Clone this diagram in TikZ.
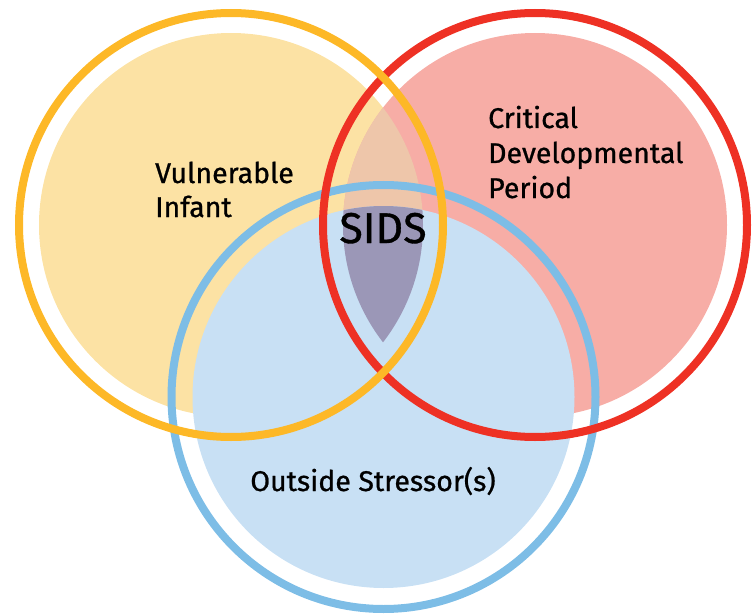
\documentclass[tikz,border=0pt]{standalone}
\usepackage{fontspec}
\setmainfont{Fira Sans}[FakeBold=0.8]
\definecolor{yring}{HTML}{FDB827}
\definecolor{rring}{HTML}{EE3124}
\definecolor{bring}{HTML}{7DBDE6}
\definecolor{yfill}{HTML}{FCE2A4}
\definecolor{rfill}{HTML}{F7ADA6}
\definecolor{bfill}{HTML}{C8E0F4}
\definecolor{yrfill}{HTML}{EEC6AA}
\definecolor{tfill}{HTML}{9B97B7}
\tikzset{
  ring/.style={line width=8pt},
  lbl/.style={font=\fontsize{28.5}{34}\selectfont, anchor=base west, inner sep=0pt, text=black},
}
\begin{document}
\begin{tikzpicture}[x=1pt,y=-1pt]
\useasboundingbox (0,0) rectangle (755,615);
\coordinate (Y) at (231,225);
\coordinate (R) at (535,225);
\coordinate (B) at (383.5,397);
% fills
\fill[yfill] (Y) circle (192pt);
\fill[rfill] (R) circle (192pt);
\begin{scope}
  \clip (Y) circle (192pt);
  \fill[yrfill] (R) circle (192pt);
\end{scope}
\fill[bfill] (B) circle (191pt);
\begin{scope}
  \clip (Y) circle (192pt);
  \clip (R) circle (192pt);
  \fill[tfill] (B) circle (191pt);
\end{scope}
% rings
\draw[ring, bring] (B) circle (212pt);
\draw[ring, rring] (R) circle (212pt);
\draw[ring, yring] (Y) circle (212pt);
% labels
\node[lbl] (v1) at (155,183) {Vulnerable};
\node[lbl] (v2) at (155,217) {Infant};
\node[lbl] (c1) at (488,128) {Critical};
\node[lbl] (c2) at (488,163) {Developmental};
\node[lbl] (c3) at (488,198) {Period};
\node[lbl, anchor=base] (s) at (383,243) {\fontsize{43}{50}\selectfont SIDS};
\node[lbl, anchor=base] (o) at (373,491) {Outside Stressor(s)};
\end{tikzpicture}
\end{document}
